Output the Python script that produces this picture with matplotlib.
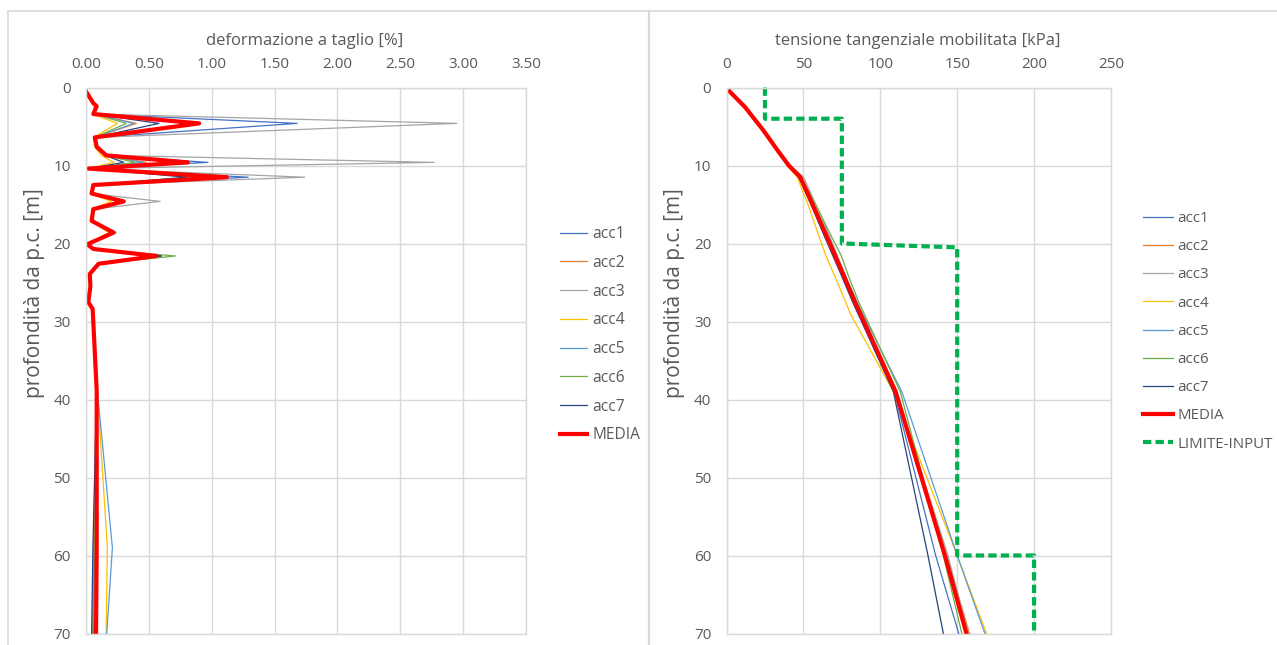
import matplotlib
matplotlib.use("Agg")
import matplotlib.pyplot as plt
from matplotlib.lines import Line2D

plt.rcParams['font.family'] = ['Open Sans', 'DejaVu Sans']

# ---------------- data ----------------
series_names = ["acc1", "acc2", "acc3", "acc4", "acc5", "acc6", "acc7"]
series_colors = ["#4472C4", "#ED7D31", "#A5A5A5", "#FFC000", "#5B9BD5", "#70AD47", "#264478"]

# left chart: shear strain [%] vs depth [m]
depth_left = [0.5, 2.0, 2.4, 3.4, 4.6, 6.4, 7.6, 8.7, 9.6, 10.4, 11.5, 12.5, 13.6, 14.6, 15.6,
              17.1, 18.6, 20.1, 20.7, 21.6, 22.6, 23.9, 25.5, 27.5, 28.4, 38.8, 59.0, 70.0]
strain_acc1 = [0.00, 0.05, 0.08, 0.06, 1.68, 0.07, 0.09, 0.15, 0.97, 0.02, 1.29, 0.06, 0.05, 0.28, 0.06,
               0.05, 0.21, 0.01, 0.06, 0.60, 0.10, 0.03, 0.04, 0.02, 0.05, 0.09, 0.07, 0.06]
strain_acc2 = [0.00, 0.06, 0.08, 0.06, 0.40, 0.07, 0.08, 0.15, 0.48, 0.02, 0.95, 0.06, 0.05, 0.25, 0.06,
               0.05, 0.20, 0.01, 0.06, 0.52, 0.10, 0.03, 0.04, 0.02, 0.05, 0.08, 0.08, 0.07]
strain_acc3 = [0.00, 0.06, 0.09, 0.06, 2.95, 0.08, 0.09, 0.17, 2.77, 0.02, 1.74, 0.06, 0.05, 0.59, 0.06,
               0.05, 0.20, 0.01, 0.06, 0.55, 0.10, 0.03, 0.04, 0.02, 0.05, 0.08, 0.06, 0.05]
strain_acc4 = [0.00, 0.05, 0.07, 0.05, 0.25, 0.06, 0.07, 0.12, 0.22, 0.02, 0.85, 0.05, 0.04, 0.20, 0.05,
               0.04, 0.18, 0.01, 0.05, 0.48, 0.09, 0.03, 0.03, 0.02, 0.05, 0.09, 0.17, 0.16]
strain_acc5 = [0.00, 0.06, 0.08, 0.06, 0.38, 0.07, 0.09, 0.15, 0.45, 0.02, 0.95, 0.06, 0.05, 0.26, 0.06,
               0.05, 0.21, 0.01, 0.06, 0.58, 0.10, 0.03, 0.04, 0.02, 0.05, 0.09, 0.21, 0.165]
strain_acc6 = [0.00, 0.06, 0.08, 0.06, 0.32, 0.07, 0.09, 0.15, 0.39, 0.02, 0.90, 0.06, 0.05, 0.26, 0.06,
               0.05, 0.24, 0.01, 0.06, 0.71, 0.10, 0.03, 0.04, 0.02, 0.05, 0.09, 0.065, 0.055]
strain_acc7 = [0.00, 0.05, 0.08, 0.06, 0.58, 0.07, 0.08, 0.15, 0.30, 0.02, 0.80, 0.06, 0.05, 0.27, 0.06,
               0.05, 0.20, 0.01, 0.06, 0.60, 0.10, 0.03, 0.04, 0.02, 0.05, 0.085, 0.055, 0.045]
strain_media = [0.00, 0.058, 0.085, 0.058, 0.90, 0.07, 0.085, 0.16, 0.81, 0.02, 1.12, 0.058, 0.045, 0.30, 0.058,
                0.045, 0.22, 0.01, 0.058, 0.56, 0.10, 0.03, 0.035, 0.018, 0.053, 0.085, 0.085, 0.08]

# right chart: mobilised shear stress [kPa] vs depth [m]
depth_right = [0.5, 2.5, 5.5, 8.0, 10.0, 11.5, 15.0, 19.0, 21.5, 24.0, 27.5, 29.0, 39.0, 60.0, 70.0]
stress_acc1 = [2, 12, 24, 33, 40.0, 47.0, 55.0, 64.0, 69.5, 75.0, 82.5, 86.0, 109.0, 136, 151]
stress_acc2 = [2, 12, 24, 33, 40.5, 48.0, 56.0, 65.0, 70.5, 76.0, 84.0, 87.5, 110.5, 143, 158]
stress_acc3 = [2, 12, 24.5, 33.5, 41.5, 50.2, 58.0, 67.0, 72.0, 77.0, 84.0, 87.5, 110.0, 144, 157]
stress_acc4 = [2, 12, 23.5, 32, 39.5, 46.0, 53.0, 60.0, 64.5, 70.0, 77.5, 80.5, 108.5, 150, 169]
stress_acc5 = [2, 12, 24, 33, 40.5, 48.0, 56.5, 66.0, 71.5, 77.0, 85.0, 88.5, 114.0, 150, 168]
stress_acc6 = [2, 12, 24, 33, 40.5, 48.5, 58.0, 68.0, 74.5, 79.0, 86.0, 89.5, 113.0, 141, 153]
stress_acc7 = [2, 12, 24, 33, 40.0, 47.0, 55.0, 63.5, 69.0, 74.5, 82.0, 85.5, 108.5, 131, 141]
stress_media = [2, 12, 24, 33, 40.5, 48.0, 56.0, 65.0, 70.5, 76.0, 83.5, 87.0, 110.0, 142, 156]

limit_stress = [25, 25, 75, 75, 150, 150, 200, 200]
limit_depth = [0, 4, 4, 20, 20.5, 60, 60, 70]

left_ticks = [0.0, 0.5, 1.0, 1.5, 2.0, 2.5, 3.0, 3.5]
right_ticks = [0, 50, 100, 150, 200, 250]
depth_ticks = [0, 10, 20, 30, 40, 50, 60, 70]

strain_series = [strain_acc1, strain_acc2, strain_acc3, strain_acc4, strain_acc5, strain_acc6, strain_acc7]
stress_series = [stress_acc1, stress_acc2, stress_acc3, stress_acc4, stress_acc5, stress_acc6, stress_acc7]

# ---------------- figure ----------------
W, H = 1277, 645
fig = plt.figure(figsize=(W / 100, H / 100), dpi=100)
fig.patch.set_facecolor("white")

TXT = "#595959"
GRID = "#D9D9D9"


def fx(px):
    return px / W


def fy(py):
    return 1 - py / H


# chart borders
border = "#D9D9D9"
fig.add_artist(Line2D([fx(8), fx(1277)], [fy(11), fy(11)], color=border, lw=1.2))
fig.add_artist(Line2D([fx(8), fx(8)], [fy(11), fy(645)], color=border, lw=1.2))
fig.add_artist(Line2D([fx(649), fx(649)], [fy(11), fy(645)], color=border, lw=1.6))

ax_top, ax_bot = 87.5, 633.5
axL = fig.add_axes([fx(86), fy(ax_bot), fx(526) - fx(86), (ax_bot - ax_top) / H])
axR = fig.add_axes([fx(726.5), fy(ax_bot), fx(1111) - fx(726.5), (ax_bot - ax_top) / H])


def style(ax, xt, xlim, fmt):
    ax.set_xlim(*xlim)
    ax.set_ylim(70, 0)
    ax.set_xticks(xt)
    ax.set_xticklabels([fmt(v) for v in xt])
    ax.set_yticks(depth_ticks)
    ax.xaxis.tick_top()
    ax.tick_params(axis="both", length=0, colors=TXT, labelsize=11)
    ax.tick_params(axis="x", pad=11)
    ax.tick_params(axis="y", pad=11)
    ax.grid(True, color=GRID, lw=1.0)
    ax.set_axisbelow(True)
    for s in ax.spines.values():
        s.set_color(GRID)
        s.set_linewidth(1.0)


style(axL, left_ticks, (0, 3.5), lambda v: f"{v:.2f}")
style(axR, right_ticks, (0, 250), lambda v: f"{v:d}")

handlesL = []
for name, col, vals in zip(series_names, series_colors, strain_series):
    h, = axL.plot(vals, depth_left, color=col, lw=0.9, label=name)
    handlesL.append(h)
h, = axL.plot(strain_media, depth_left, color="#FF0000", lw=3.0, label="MEDIA",
              solid_joinstyle="round")
handlesL.append(h)

handlesR = []
for name, col, vals in zip(series_names, series_colors, stress_series):
    h, = axR.plot(vals, depth_right, color=col, lw=0.9, label=name)
    handlesR.append(h)
h, = axR.plot(stress_media, depth_right, color="#FF0000", lw=3.0, label="MEDIA",
              solid_joinstyle="round")
handlesR.append(h)
h, = axR.plot(limit_stress, limit_depth, color="#00B050", lw=3.0, dashes=(2.0, 1.0),
              label="LIMITE-INPUT", clip_on=False)
handlesR.append(h)

# titles
fig.text(fx(305), fy(41), "deformazione a taglio [%]", ha="center", va="center", color=TXT, fontsize=12)
fig.text(fx(918), fy(41), "tensione tangenziale mobilitata [kPa]", ha="center", va="center",
         color=TXT, fontsize=12)
fig.text(fx(35), fy(293), "profondità da p.c. [m]", ha="center", va="center", rotation=90,
         color=TXT, fontsize=15)
fig.text(fx(675), fy(293), "profondità da p.c. [m]", ha="center", va="center", rotation=90,
         color=TXT, fontsize=15)

legL = fig.legend(handles=handlesL, loc="upper left", bbox_to_anchor=(fx(560), fy(226)),
                  frameon=False, fontsize=11.2, labelcolor=TXT, handlelength=1.75,
                  handletextpad=0.35, labelspacing=0.82, borderpad=0, borderaxespad=0)
legR = fig.legend(handles=handlesR, loc="upper left", bbox_to_anchor=(fx(1143), fy(211)),
                  frameon=False, fontsize=10.8, labelcolor=TXT, handlelength=2.0,
                  handletextpad=0.3, labelspacing=0.88, borderpad=0, borderaxespad=0)

fig.savefig("out.png", dpi=100)
